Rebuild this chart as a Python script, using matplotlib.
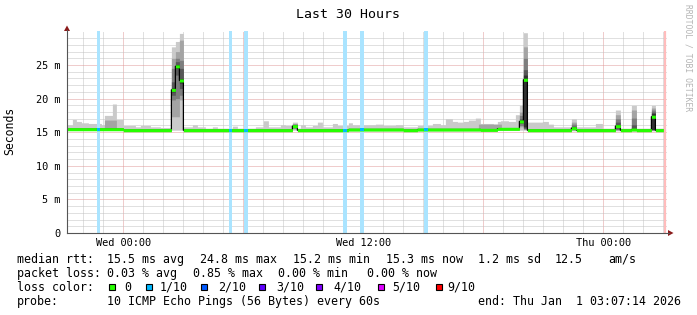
import matplotlib
matplotlib.use("Agg")
import matplotlib.pyplot as plt
import numpy as np
from matplotlib.patches import Polygon, Rectangle
from matplotlib.lines import Line2D

W, H = 697, 315
MONO = "DejaVu Sans Mono"

# hours relative to Wed 00:00, values in ms
top_h = [-2.85, -2.55, -2.35, -2.1, -1.75, -1.1, -0.95, -0.55, -0.35, 0.0, 0.6, 0.85, 1.35, 1.85,
         3.0, 3.45, 3.7, 4.1, 4.45, 4.7, 5.45, 5.7, 6.6, 7.0, 7.25, 7.85, 8.1, 8.45, 8.7, 8.85,
         9.1, 9.45, 9.7, 9.95, 10.45, 10.7, 11.25, 11.45, 12.6, 13.0, 13.6, 14.0, 14.7, 15.45,
         15.85, 16.1, 16.45, 16.7, 17.0, 17.25, 17.6, 17.85, 18.5, 18.7, 18.85, 19.25, 19.6,
         20.2, 20.95, 21.25, 21.5, 22.4, 22.65, 23.6, 23.95, 26.7]
top_ms = [16.1, 16.9, 16.6, 16.4, 16.3, 16.1, 17.5, 19.2, 16.9, 16.0, 15.8, 16.0, 15.8, 15.7,
          15.8, 16.1, 15.8, 15.6, 15.8, 15.6, 15.9, 15.6, 15.8, 16.7, 15.8, 16.1, 16.0, 16.5, 15.6, 16.1,
          15.8, 16.0, 16.5, 15.8, 16.3, 16.0, 16.4, 16.1, 16.2, 16.0, 16.1, 15.8, 16.0, 16.3,
          16.1, 17.0, 16.6, 16.5, 16.6, 16.8, 17.1, 16.3, 16.2, 16.6, 16.7, 16.6, 17.6,
          16.5, 16.6, 16.2, 15.8, 17.0, 15.8, 16.3, 15.6, 15.6]

med_h = [-2.85, 0.0, 11.25, 14.0, 14.7, 17.85, 18.7, 20.2]
med_ms = [15.45, 15.3, 15.4, 15.3, 15.4, 15.35, 15.5, 15.3]

# darker inner smoke patches (start, end, top)
mid_h0 = [-0.95, 17.75]
mid_h1 = [-0.35, 18.9]
mid_ms = [16.8, 16.2]

# spikes: 10 sorted pings per column
spike_h0 = [2.4, 2.6, 2.8, 8.45, 19.8, 20.0, 22.4, 24.6, 25.4, 26.4]
spike_h1 = [2.6, 2.8, 3.0, 8.7, 20.0, 20.2, 22.65, 24.85, 25.65, 26.6]
spike_med = [21.3, 24.8, 22.7, 15.9, 16.6, 22.8, 15.6, 15.9, 15.4, 17.3]
spike_pings = [
    [15.3, 17.3, 19.8, 20.5, 21.0, 21.6, 22.5, 24.5, 26.0, 27.7],
    [15.3, 17.3, 20.0, 23.5, 24.5, 25.0, 25.5, 26.0, 27.0, 28.5],
    [15.3, 19.8, 20.5, 21.5, 22.3, 23.0, 24.5, 25.7, 28.7, 29.7],
    [15.3, 15.5, 15.6, 15.7, 15.8, 16.0, 16.1, 16.2, 16.3, 16.5],
    [15.3, 15.8, 16.0, 16.3, 16.5, 16.7, 17.0, 17.5, 18.0, 19.0],
    [15.3, 15.4, 15.5, 15.6, 15.8, 23.5, 24.3, 26.0, 27.7, 29.8],
    [15.2, 15.3, 15.4, 15.5, 15.6, 15.7, 15.9, 16.2, 16.5, 17.0],
    [15.2, 15.3, 15.4, 15.5, 15.7, 16.1, 16.5, 17.0, 17.6, 18.3],
    [15.2, 15.3, 15.4, 15.4, 15.4, 15.5, 16.1, 17.1, 18.3, 19.0],
    [15.2, 15.3, 15.3, 15.4, 15.4, 17.8, 18.0, 18.3, 18.6, 19.0],
]

# 1/10 loss periods
loss_h0 = [-1.33, 5.28, 6.05, 11.0, 11.85, 15.03]
loss_h1 = [-1.17, 5.45, 6.23, 11.2, 12.05, 15.25]

xtick_h = [0, 12, 24]
xtick_labels = ["Wed 00:00", "Wed 12:00", "Thu 00:00"]
ytick_ms = [0, 5, 10, 15, 20, 25]
ytick_labels = ["0", "5 m", "10 m", "15 m", "20 m", "25 m"]

smoke_grays = ["#cacaca", "#a4a4a4", "#7e7e7e", "#585858", "#323232"]
loss_names = ["0", "1/10", "2/10", "3/10", "4/10", "5/10", "9/10"]
loss_colors = ["#26ff00", "#00b8ff", "#0059ff", "#5e00ff", "#7e00ff", "#dd00ff", "#ff0000"]


def px(x, y):
    return x / W, 1 - y / H


# build series on a 1 px (3 min) grid
t = np.arange(-2.85, 27.1 + 1e-9, 0.05)
eps = 1e-6
med = np.array(med_ms)[np.searchsorted(med_h, t + eps, side="right") - 1]
top = np.array(top_ms)[np.searchsorted(top_h, t + eps, side="right") - 1]
P = np.zeros((10, len(t)))
P[0] = med - 0.2
P[1:9] = med
P[9] = top
for h0, h1, m in zip(mid_h0, mid_h1, mid_ms):
    sel = (t >= h0 - eps) & (t < h1 - eps)
    P[8, sel] = m
for h0, h1, m, pings in zip(spike_h0, spike_h1, spike_med, spike_pings):
    sel = (t >= h0 - eps) & (t < h1 - eps)
    P[:, sel] = np.array(pings)[:, None]
    med[sel] = m

fig = plt.figure(figsize=(W / 100, H / 100), dpi=100)
ax = fig.add_axes([67 / W, (H - 233) / H, 600 / W, 201.6 / H])
ax.set_xlim(-2.82, 27.18)
ax.set_ylim(0, 30)
for s in ax.spines.values():
    s.set_visible(False)

# dotted grid, red-ish for major lines
for h in range(-2, 28):
    major = h % 6 == 0
    ax.axvline(h, color="#e09a9a" if major else "#c2c2c2", lw=0.72,
               dashes=(1, 1), zorder=0)
for v in range(1, 30):
    major = v % 5 == 0
    ax.axhline(v, color="#e09a9a" if major else "#c2c2c2", lw=0.72,
               dashes=(1, 1), zorder=0)

# smoke
for i in range(5):
    ax.fill_between(t, P[i], P[9 - i], step="post", color=smoke_grays[i], lw=0, zorder=2)

for h0, h1 in zip(loss_h0, loss_h1):
    ax.axvspan(h0, h1, color="#aae4ff", lw=0, zorder=3)

ax.step(t, med, where="post", color="black", lw=0.9, zorder=4)
ax.fill_between(t, med - 0.23, med + 0.23, step="post", color=loss_colors[0], lw=0, zorder=5)
for h0, h1 in zip(loss_h0, loss_h1):
    m = med[np.searchsorted(t, h0)]
    ax.fill_between([h0, h1], [m - 0.23] * 2, [m + 0.23] * 2, color=loss_colors[1], lw=0, zorder=6)

ax.axvline(27.1, color="#ffbcbc", lw=1.6, zorder=6)

ax.set_xticks(xtick_h, xtick_labels)
ax.set_yticks(ytick_ms, ytick_labels)
ax.tick_params(length=0, labelsize=7.4, colors="black")
ax.tick_params(axis="x", pad=3.5)
ax.tick_params(axis="y", pad=5)
for lab in ax.get_xticklabels() + ax.get_yticklabels():
    lab.set_family(MONO)

# axes with arrows
axis_col = "#555555"
arrow_col = "#8b1a1a"
fig.add_artist(Line2D([67 / W, 67 / W], [1 - 233 / H, 1 - 30 / H], color=axis_col, lw=0.8))
fig.add_artist(Line2D([67 / W, 669 / W], [1 - 233 / H, 1 - 233 / H], color=axis_col, lw=0.8))
fig.add_artist(Polygon([px(64, 31), px(70, 31), px(67, 25.5)], closed=True,
                       transform=fig.transFigure, color=arrow_col, lw=0))
fig.add_artist(Polygon([px(668, 230), px(668, 236), px(673.5, 233)], closed=True,
                       transform=fig.transFigure, color=arrow_col, lw=0))

# titles
fig.text(*px(348, 14), "Last 30 Hours", family=MONO, fontsize=9.5, ha="center", va="center")
fig.text(*px(10, 131), "Seconds", family=MONO, fontsize=8.3, rotation=90, ha="center", va="center")
fig.text(*px(688, 4), "RRDTOOL / TOBI OETIKER", family=MONO, fontsize=5.8, rotation=270,
         ha="center", va="top", color="#b4b4b4")

# legend
fs = 8.4


def txt(x, y, s):
    fig.text(*px(x, y), s, family=MONO, fontsize=fs, ha="left", va="baseline")


txt(17, 263, "median rtt:")
txt(107, 263, "15.5 ms avg")
txt(200, 263, "24.8 ms max")
txt(293, 263, "15.2 ms min")
txt(386, 263, "15.3 ms now")
txt(478, 263, "1.2 ms sd")
txt(555, 263, "12.5")
txt(608, 263, "am/s")

txt(17, 277, "packet loss:")
txt(107, 277, "0.03 % avg")
txt(193, 277, "0.85 % max")
txt(278, 277, "0.00 % min")
txt(367, 277, "0.00 % now")

txt(17, 291, "loss color:")
box_x = [109, 146, 201, 259, 316, 378, 436]
lab_x = [124, 160, 218, 276, 333, 392, 447]
for bx, lx, name, col in zip(box_x, lab_x, loss_names, loss_colors):
    x0, y0 = px(bx, 290)
    fig.add_artist(Rectangle((x0, y0), 6 / W, 6 / H, transform=fig.transFigure,
                             facecolor=col, edgecolor="black", lw=0.8))
    txt(lx, 291, name)

txt(17, 305, "probe:")
txt(107, 305, "10 ICMP Echo Pings (56 Bytes) every 60s")
txt(478, 305, "end: Thu Jan  1 03:07:14 2026")

fig.savefig("out.png", dpi=100, facecolor="white")
